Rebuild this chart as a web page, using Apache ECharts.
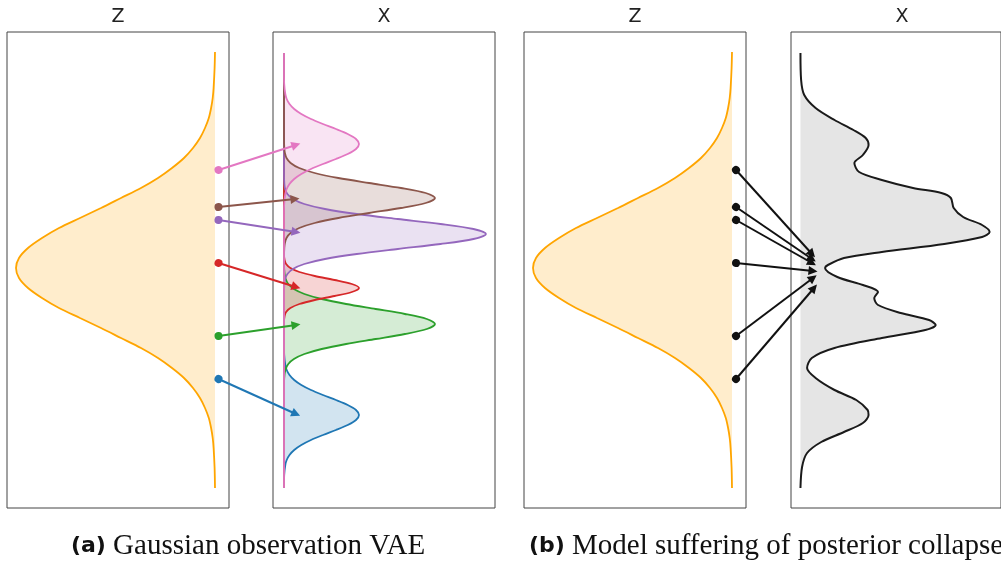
<!DOCTYPE html>
<html>
<head>
<meta charset="utf-8">
<title>Gaussian VAE / posterior collapse</title>
<script src="https://cdn.jsdelivr.net/npm/echarts@6/dist/echarts.min.js"></script>
<style>
  html, body { margin: 0; padding: 0; background: #fff; }
  #chart { width: 1001px; height: 565px; }
</style>
</head>
<body>
<div id="chart"></div>
<script>
// every curve point is [density, position]; position is shared by all panels,
// density is measured from the panel's own baseline
const zDensity = [
  [0, 52], [0.4, 68], [1.4, 88], [2.3, 98], [3.9, 108], [6.2, 118], [10, 128], [15, 138],
  [22, 148], [31, 158], [43, 168], [57, 178], [74, 188], [94, 198], [114, 208], [135, 218],
  [156, 228], [173, 238], [187, 248], [196, 258], [199, 268], [196, 278], [187, 288], [173, 298],
  [156, 308], [135, 318], [114, 328], [94, 338], [74, 348], [57, 358], [43, 368], [31, 378],
  [22, 388], [15, 398], [10, 408], [6.2, 418], [3.9, 428], [2.3, 438], [1.4, 448], [0.4, 468], [0, 488]
]

const xBlue = [
  [0, 53], [0, 345], [0.2, 355], [1.3, 365], [2.7, 370], [5.5, 375], [10.2, 380], [17.3, 385],
  [27, 390], [39, 395], [52, 400], [63.7, 405], [72, 410], [75, 415], [72, 420], [63.7, 425],
  [52, 430], [39, 435], [27, 440], [17.3, 445], [10.2, 450], [5.5, 455], [2.7, 460], [1.3, 465],
  [0.2, 475], [0, 488]
]
const xGreen = [
  [0, 53], [0, 264], [0.6, 274], [1.7, 279], [4.3, 284], [9.9, 289], [20.4, 294], [37.7, 299],
  [62.1, 304], [91.6, 309], [120.9, 314], [142.8, 319], [151, 324], [142.8, 329], [120.9, 334],
  [91.6, 339], [62.1, 344], [37.7, 349], [20.4, 354], [9.9, 359], [4.3, 364], [1.7, 369],
  [0.6, 374], [0, 384], [0, 488]
]
const xRed = [
  [0, 53], [0, 254], [0.6, 260], [2.1, 264], [6.4, 268], [15.4, 272], [30.8, 276], [50.5, 280],
  [67.9, 284], [75, 288], [67.9, 292], [50.5, 296], [30.8, 300], [15.4, 304], [6.4, 308],
  [2.1, 312], [0.6, 316], [0, 322], [0, 488]
]
const xPurple = [
  [0, 53], [0, 174], [0.35, 184], [1.2, 189], [3.4, 194], [8.9, 199], [20.3, 204], [41, 209],
  [72.8, 214], [113.8, 219], [156.6, 224], [189.5, 229], [202, 234], [189.5, 239], [156.6, 244],
  [113.8, 249], [72.8, 254], [41, 259], [20.3, 264], [8.9, 269], [3.4, 274], [1.2, 279],
  [0.35, 284], [0, 294], [0, 488]
]
const xBrown = [
  [0, 53], [0, 138], [0.3, 148], [0.9, 153], [2.5, 158], [6.6, 163], [15.2, 168], [30.7, 173],
  [54.4, 178], [85.1, 183], [117, 188], [141.7, 193], [151, 198], [141.7, 203], [117, 208],
  [85.1, 213], [54.4, 218], [30.7, 223], [15.2, 228], [6.6, 233], [2.5, 238], [0.9, 243],
  [0.3, 248], [0, 258], [0, 488]
]
const xPink = [
  [0, 53], [0, 74], [0.2, 84], [1.3, 94], [2.7, 99], [5.5, 104], [10.2, 109], [17.3, 114],
  [27, 119], [39, 124], [52, 129], [63.7, 134], [72, 139], [75, 144], [72, 149], [63.7, 154],
  [52, 159], [39, 164], [27, 169], [17.3, 174], [10.2, 179], [5.5, 184], [2.7, 189], [1.3, 194],
  [0.2, 204], [0, 214], [0, 488]
]

const xCollapsed = [
  [0, 53], [0.7, 80], [4, 95], [16, 108], [36, 120], [56, 130], [69, 138], [72, 145], [66, 155],
  [57, 163], [62, 172], [86, 180], [119, 188], [149, 193], [159, 198], [162, 208], [172, 217],
  [192, 225], [200, 232], [192, 237], [152, 244], [86, 252], [46, 258], [29, 265], [26, 268],
  [39, 277], [66, 285], [82, 292], [78, 298], [82, 305], [106, 313], [136, 320], [143, 325],
  [132, 330], [86, 338], [36, 348], [12, 358], [7, 368], [16, 378], [36, 390], [59, 400],
  [71, 410], [72, 415], [66, 423], [46, 432], [22, 442], [7, 453], [1.7, 467], [0, 488]
]

// z samples (pink, brown, purple, red, green, blue) and where their arrows land
const zSamples = [170, 207, 220, 263, 336, 379]
const sampleColors = ['#e377c2', '#8c564b', '#9467bd', '#d62728', '#2ca02c', '#1f77b4']
const targetsA = [[296, 145], [295, 199], [296, 232], [296, 287], [296, 325], [296, 414]]
const targetsB = [[812, 254], [812, 259], [812, 263], [813, 271], [813, 278], [814, 288]]

const panelTitles = ['Z', 'X', 'Z', 'X']
const captions = [['(a)', 'Gaussian observation VAE'], ['(b)', 'Model suffering of posterior collapse']]

const panelLeft = [7, 273, 524, 791]
const xRange = [[-14, 208], [-11, 211], [-14, 208], [-10, 212]]

const grids = panelLeft.map(l => ({
  left: l, top: 32, width: 222, height: 476,
  show: true, borderColor: '#444', borderWidth: 1, backgroundColor: 'transparent'
}))
grids.push({ left: 0, top: 32, width: 1001, height: 476 })

const xAxes = xRange.map((r, i) => ({
  type: 'value', gridIndex: i, min: r[0], max: r[1], inverse: i === 0 || i === 2, show: false
}))
xAxes.push({ type: 'value', gridIndex: 4, min: 0, max: 1001, show: false })

// time axis on y makes it the base axis, so areas fill sideways to density 0
const yAxes = [0, 1, 2, 3].map(i => ({
  type: 'time', gridIndex: i, min: 32, max: 508, inverse: true, show: false
}))
yAxes.push({ type: 'value', gridIndex: 4, min: 32, max: 508, inverse: true, show: false })

function curve(data, idx, color, fill, width) {
  return {
    type: 'line', xAxisIndex: idx, yAxisIndex: idx, data: data,
    smooth: 0.3, symbol: 'none', silent: true,
    lineStyle: { color: color, width: width },
    areaStyle: { color: fill, opacity: 1 }
  }
}

function arrows(x0, targets, colors, width) {
  return {
    type: 'lines', coordinateSystem: 'cartesian2d', xAxisIndex: 4, yAxisIndex: 4,
    z: 5, silent: true,
    symbol: ['circle', 'triangle'], symbolSize: [8, 9],
    lineStyle: { width: width, opacity: 1, curveness: 0 },
    data: zSamples.map((y, i) => ({
      coords: [[x0, y], targets[i]],
      lineStyle: { color: colors[i] }
    }))
  }
}

const xSeries = [
  [xBlue, '#1f77b4', 'rgba(31,119,180,0.2)'],
  [xGreen, '#2ca02c', 'rgba(44,160,44,0.2)'],
  [xRed, '#d62728', 'rgba(214,39,40,0.2)'],
  [xPurple, '#9467bd', 'rgba(148,103,189,0.2)'],
  [xBrown, '#8c564b', 'rgba(140,86,75,0.2)'],
  [xPink, '#e377c2', 'rgba(227,119,194,0.2)']
]

const series = [
  curve(zDensity, 0, '#ffa500', 'rgba(255,165,0,0.2)', 1.8),
  ...xSeries.map(s => curve(s[0], 1, s[1], s[2], 1.8)),
  curve(zDensity, 2, '#ffa500', 'rgba(255,165,0,0.2)', 1.8),
  curve(xCollapsed, 3, '#1a1a1a', 'rgba(0,0,0,0.1)', 2),
  arrows(218.5, targetsA, sampleColors, 2),
  arrows(736, targetsB, sampleColors.map(() => '#111'), 2)
]

const titles = panelTitles.map((t, i) => ({
  text: t, left: panelLeft[i] + 111, top: 8, padding: 0, textAlign: 'center',
  textStyle: { fontFamily: 'DejaVu Sans', fontSize: 19, fontWeight: 'normal', color: '#222' }
}))
const captionCenters = [248, 766]
captions.forEach((c, i) => {
  titles.push({
    text: '{b|' + c[0] + '}{s| ' + c[1] + '}',
    left: captionCenters[i], top: 532, padding: 0, textAlign: 'center',
    textStyle: {
      fontWeight: 'normal',
      rich: {
        b: { fontFamily: 'DejaVu Sans', fontWeight: 'bold', fontSize: 22, color: '#111' },
        s: { fontFamily: 'Liberation Serif', fontWeight: 'normal', fontSize: 29, color: '#111' }
      }
    }
  })
})

const chart = echarts.init(document.getElementById('chart'))
chart.setOption({
  animation: false,
  backgroundColor: '#fff',
  title: titles,
  grid: grids,
  xAxis: xAxes,
  yAxis: yAxes,
  series: series
})
</script>
</body>
</html>
